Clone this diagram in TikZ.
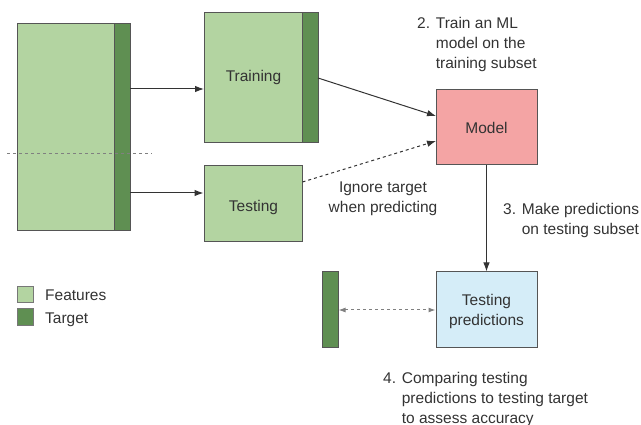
\documentclass[tikz,border=0pt]{standalone}
\usepackage{fontspec}
\setmainfont{Liberation Sans}
\usetikzlibrary{arrows.meta}
\definecolor{feat}{HTML}{B3D4A1}
\definecolor{targ}{HTML}{5F8F52}
\definecolor{modelc}{HTML}{F4A4A4}
\definecolor{predc}{HTML}{D5EDF8}
\definecolor{txt}{HTML}{333333}
\definecolor{edge}{HTML}{555555}
\tikzset{
  box/.style={draw=edge, line width=1pt, inner sep=0pt},
  lbl/.style={text=txt, font=\fontsize{15.5}{20}\selectfont, inner sep=0pt},
  conn/.style={draw=black!80, line width=1pt, -{Latex[length=9pt,width=6.5pt]}},
  dconn/.style={conn, dashed},
}
\begin{document}
\begin{tikzpicture}[x=1pt,y=-1pt]
\useasboundingbox (0,0) rectangle (641,425);
% full data set
\filldraw[box, fill=feat] (17,24) rectangle (114,231);
\filldraw[box, fill=targ] (114,24) rectangle (130,231);
\coordinate (dataTop) at (130,89);
\coordinate (dataBot) at (130,193);
\draw[dashed, draw=gray, line width=1pt] (7,154) -- (152,154);
% training
\filldraw[box, fill=feat] (204,13) rectangle (302,143);
\filldraw[box, fill=targ] (302,13) rectangle (318,143);
\node[lbl] (train) at (253.5,77) {Training};
\coordinate (trainL) at (204,89);
\coordinate (trainR) at (318,78);
% testing
\node[box, fill=feat, minimum width=98pt, minimum height=76pt] (test) at (253,204) {};
\node[lbl] at (253.5,207) {Testing};
% model
\node[box, fill=modelc, minimum width=101pt, minimum height=75pt] (model) at (486.5,127.5) {};
\node[lbl] at (486.5,128) {Model};
% predictions
\node[box, fill=predc, minimum width=101pt, minimum height=76pt] (pred) at (486.5,310) {};
\node[lbl, align=center] at (486.5,311) {Testing\\predictions};
% target bar
\node[box, fill=targ, minimum width=16pt, minimum height=76pt] (tbar) at (330,310) {};
% connectors
\draw[conn] (dataTop) -- (trainL);
\draw[conn] (dataBot) -- (test.west |- dataBot);
\draw[conn] (trainR) -- (436,116);
\draw[dconn] (test.east |- 0,182) -- (436,141);
\draw[conn] (model.south) -- (pred.north);
\draw[dashed, draw=gray, line width=1pt, {Latex[length=7pt,width=5pt]}-{Latex[length=7pt,width=5pt]}] (tbar.east) -- (pred.west);
% labels
\node[lbl, anchor=base west, align=left] at (417,68.5) {2. Train an ML\\\hphantom{2. }model on the\\\hphantom{2. }training subset};
\node[lbl, align=center] at (383,199) {Ignore target\\when predicting};
\node[lbl, anchor=base west, align=left] at (503,235) {3. Make predictions\\\hphantom{3. }on testing subset};
\node[lbl, anchor=base west, align=left] at (383,423) {4. Comparing testing\\\hphantom{4. }predictions to testing target\\\hphantom{4. }to assess accuracy};
% legend
\filldraw[box, draw=edge!80, fill=feat] (17,287) rectangle (33,303);
\filldraw[box, draw=edge!80, fill=targ] (17,309) rectangle (33,326);
\node[lbl, anchor=base west] (lf) at (45,300.5) {Features};
\node[lbl, anchor=base west] (lt) at (45,323.5) {Target};
\end{tikzpicture}
\end{document}
